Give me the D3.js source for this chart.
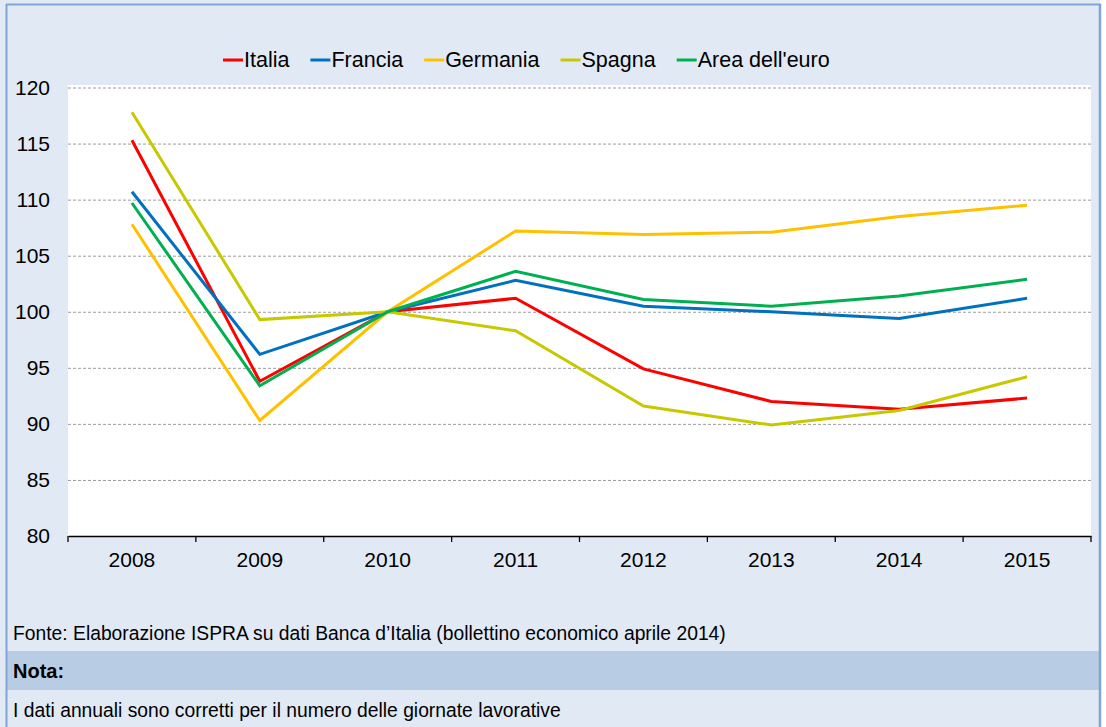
<!DOCTYPE html>
<html>
<head>
<meta charset="utf-8">
<script src="https://cdn.jsdelivr.net/npm/d3@7/dist/d3.min.js"></script>
<style>
html,body{margin:0;padding:0;background:#fff;}
svg{display:block;font-family:"Liberation Sans",Arial,sans-serif;}
</style>
</head>
<body>
<svg id="chart" width="1106" height="727"></svg>
<script>
const years = ["2008","2009","2010","2011","2012","2013","2014","2015"];
const yTicks = [80,85,90,95,100,105,110,115,120];
const seriesNames = ["Italia","Francia","Germania","Spagna","Area dell'euro"];
const seriesColors = ["#FF0000","#0070C0","#FFC000","#C8C800","#00B050"];
const italia   = [115.3, 93.8, 100, 101.2, 94.9, 92.0, 91.3, 92.3];
const francia  = [110.7, 96.2, 100, 102.8, 100.5, 100.0, 99.4, 101.2];
const germania = [107.8, 90.3, 100, 107.2, 106.9, 107.1, 108.5, 109.5];
const spagna   = [117.8, 99.3, 100, 98.3, 91.6, 89.9, 91.2, 94.2];
const areaEuro = [109.7, 93.4, 100, 103.6, 101.1, 100.5, 101.4, 102.9];
const seriesValues = [italia, francia, germania, spagna, areaEuro];
const sourceText = "Fonte: Elaborazione ISPRA su dati Banca d\u2019Italia (bollettino economico aprile 2014)";
const noteTitle = "Nota:";
const noteText = "I dati annuali sono corretti per il numero delle giornate lavorative";

const svg = d3.select("#chart");
const W = 1106, H = 727;
const bg = "#E1E9F5", band = "#B8CCE4", borderC = "#7FA4D6";

// panel background
svg.append("rect").attr("x",0).attr("y",0).attr("width",1100).attr("height",H).attr("fill",bg);
// nota band
svg.append("rect").attr("x",7).attr("y",651).attr("width",1093).attr("height",39).attr("fill",band);
// borders
svg.append("line").attr("x1",6.5).attr("x2",6.5).attr("y1",4).attr("y2",H).attr("stroke",borderC).attr("stroke-width",2);
svg.append("line").attr("x1",1100).attr("x2",1100).attr("y1",4).attr("y2",H).attr("stroke",borderC).attr("stroke-width",2.5);
svg.append("line").attr("x1",6).attr("x2",1101).attr("y1",4.5).attr("y2",4.5).attr("stroke",borderC).attr("stroke-width",2);

const L = 68, R = 1091, T = 87.5, B = 536;
const x = d3.scaleBand().domain(years).range([L,R]);
const y = d3.scaleLinear().domain([80,120]).range([B,T]);
const cx = d => x(d) + x.bandwidth()/2;

// plot area
svg.append("rect").attr("x",L).attr("y",85).attr("width",R-L).attr("height",B-85).attr("fill","#fff");

// gridlines
const grid = svg.append("g").attr("transform",`translate(${L},0)`)
  .call(d3.axisLeft(y).tickValues(yTicks.filter(v=>v>80)).tickSize(-(R-L)).tickFormat(""));
grid.select(".domain").remove();
grid.selectAll("line").attr("stroke","#9C9C9C").attr("stroke-width",1).attr("stroke-dasharray","3,2");

// y labels
const ya = svg.append("g").attr("transform",`translate(${L},0)`)
  .call(d3.axisLeft(y).tickValues(yTicks).tickSize(0).tickPadding(18));
ya.select(".domain").remove();
ya.selectAll("text").attr("font-size",21).attr("fill","#000").attr("font-family","Liberation Sans, Arial, sans-serif");

// x axis
const xa = svg.append("g").attr("transform",`translate(0,${B})`)
  .call(d3.axisBottom(x).tickSize(0).tickPadding(16));
xa.select(".domain").attr("stroke","#000").attr("stroke-width",1.5);
xa.selectAll("text").attr("font-size",21).attr("fill","#000").attr("font-family","Liberation Sans, Arial, sans-serif");
const bounds = years.map(d=>x(d)).concat([R]);
svg.append("g").selectAll("line").data(bounds).join("line")
  .attr("x1",d=>d).attr("x2",d=>d).attr("y1",B).attr("y2",B+6)
  .attr("stroke","#000").attr("stroke-width",1.3);

// lines
const lineGen = d3.line().x((d,i)=>cx(years[i])).y(d=>y(d));
svg.append("g").selectAll("path").data(seriesValues).join("path")
  .attr("d",d=>lineGen(d)).attr("fill","none")
  .attr("stroke",(d,i)=>seriesColors[i]).attr("stroke-width",3)
  .attr("stroke-linejoin","miter");

// legend
const leg = svg.append("g");
let lx = 223;
seriesNames.forEach((n,i)=>{
  const g = leg.append("g");
  g.append("line").attr("x1",lx).attr("x2",lx+20).attr("y1",60).attr("y2",60)
    .attr("stroke",seriesColors[i]).attr("stroke-width",3);
  const t = g.append("text").attr("x",lx+21).attr("y",67).attr("font-size",21.5).attr("fill","#000").text(n);
  lx += 21 + t.node().getComputedTextLength() + 21;
});

// footer
svg.append("text").attr("x",13).attr("y",640).attr("font-size",19.3).attr("fill","#000").text(sourceText);
svg.append("text").attr("x",13).attr("y",678).attr("font-size",20).attr("font-weight","bold").attr("fill","#000").text(noteTitle);
svg.append("text").attr("x",13).attr("y",717).attr("font-size",19.3).attr("fill","#000").text(noteText);
</script>
</body>
</html>
